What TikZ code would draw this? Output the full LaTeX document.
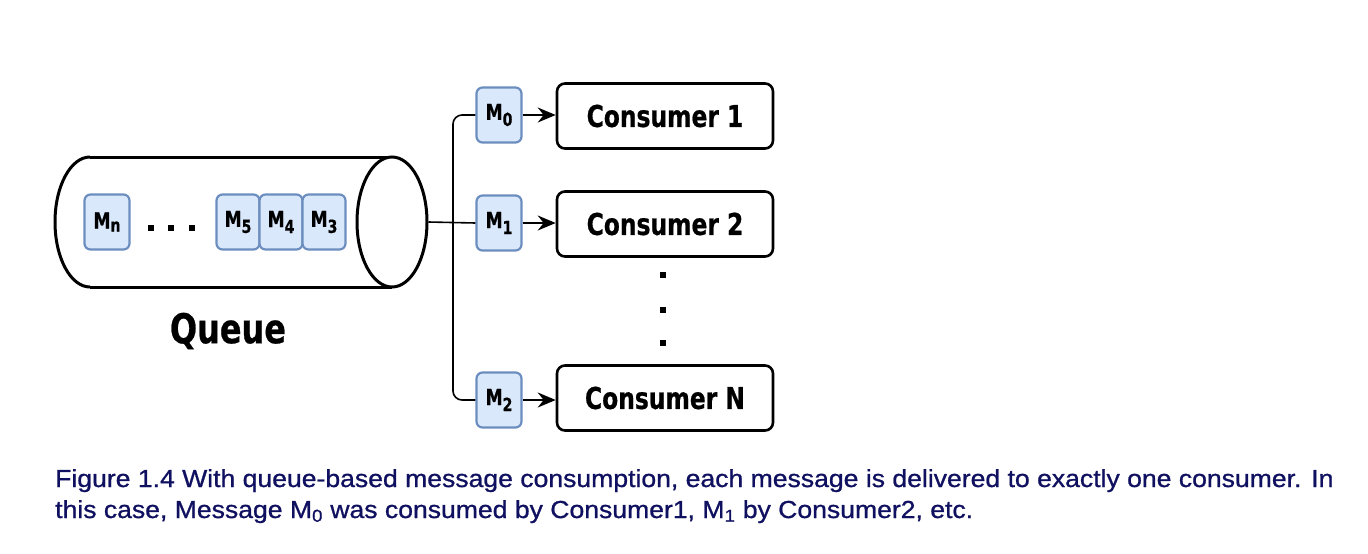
\documentclass[tikz,border=0pt]{standalone}
\usepackage{fontspec}
\setmainfont{DejaVu Sans}
\newfontfamily\dfont[FakeStretch=0.78,FakeBold=0.6]{DejaVu Sans}
\newfontfamily\capfont[FakeStretch=1.08,FakeBold=0.9]{Liberation Sans}
\usetikzlibrary{arrows.meta,shapes.geometric}
\definecolor{msgfill}{HTML}{DAE8FC}
\definecolor{msgdraw}{HTML}{6C8EBF}
\definecolor{capcol}{RGB}{16,16,96}
\newcommand{\msub}[1]{M\raisebox{-6pt}{\fontsize{18}{18}\selectfont #1}}
\tikzset{
  msg/.style={draw=msgdraw, fill=msgfill, line width=2.2pt, rounded corners=6pt,
    minimum width=43pt, minimum height=55pt, inner sep=0pt,
    font=\dfont\bfseries\fontsize{22}{22}\selectfont},
  cons/.style={draw=black, line width=2.6pt, rounded corners=8pt,
    minimum width=216pt, minimum height=65pt, inner sep=0pt,
    font=\dfont\bfseries\fontsize{30}{36}\selectfont},
  conn/.style={line width=1.6pt},
  arr/.style={line width=2pt, arrows={-Stealth[length=18pt,width=15pt,inset=6pt]}},
  cyl/.style={line width=3pt},
  dotn/.style={rectangle, fill=black, inner sep=0pt, minimum size=6.5pt},
  capt/.style={anchor=base west, inner sep=0pt, text=capcol,
    font=\capfont\fontsize{24.6}{30}\selectfont}
}
\begin{document}
\begin{tikzpicture}[x=1pt,y=-1pt]
\useasboundingbox (0,0) rectangle (1368,554);
% cylinder
\fill[white] (90,157) -- (392,157) -- (392,287) -- (90,287) arc[start angle=-270,end angle=-90,x radius=35,y radius=65] -- cycle;
\draw[cyl] (90,157) -- (392,157);
\draw[cyl] (90,287) -- (392,287);
\draw[cyl] (90,157) arc[start angle=-90,end angle=-270,x radius=35,y radius=65];
\node[cyl, draw, fill=white, ellipse, minimum width=70pt, minimum height=130pt, inner sep=0pt] (qend) at (392,222) {};
% messages in queue
\node[msg, minimum width=45pt] (mn) at (107,222) {M\raisebox{-3pt}{\fontsize{18}{18}\selectfont n}};
\node[dotn] (d1) at (151,228) {};
\node[dotn] (d2) at (171,228) {};
\node[dotn] (d3) at (192,228) {};
\node[msg] (m5) at (238,222) {\msub{5}};
\node[msg] (m4) at (281,222) {\msub{4}};
\node[msg] (m3) at (324,222) {\msub{3}};
\node[font=\dfont\bfseries\fontsize{41}{48}\selectfont, inner sep=0pt] (qlabel) at (228,331) {Queue};
% delivered messages
\node[msg, minimum width=45pt] (m0) at (499,115) {\msub{0}};
\node[msg, minimum width=45pt] (m1) at (499,223) {\msub{1}};
\node[msg, minimum width=45pt] (m2) at (499,400) {\msub{2}};
% consumers
\node[cons] (c1) at (665,116) {Consumer 1};
\node[cons] (c2) at (665,224) {Consumer 2};
\node[cons] (cn) at (665,398) {Consumer N};
\node[dotn] (v1) at (663,275) {};
\node[dotn] (v2) at (663,310) {};
\node[dotn] (v3) at (663,343) {};
% connectors
\coordinate (bx) at (453,223);
\draw[conn] (qend.east) -- (m1.west);
\draw[conn, rounded corners=9pt] (m0.west) -| (bx) |- (m2.west);
\draw[arr] (m0.east) -- (c1.west |- m0.east);
\draw[arr] (m1.east) -- (c2.west |- m1.east);
\draw[arr] (m2.east) -- (cn.west |- m2.east);
% caption
\node[capt] (cap1) at (55,487) {Figure 1.4 With queue-based message consumption, each message is delivered to exactly one consumer. In};
\node[capt] (cap2) at (55,518) {this case, Message M\textsubscript{0} was consumed by Consumer1, M\textsubscript{1} by Consumer2, etc.};
\end{tikzpicture}
\end{document}
